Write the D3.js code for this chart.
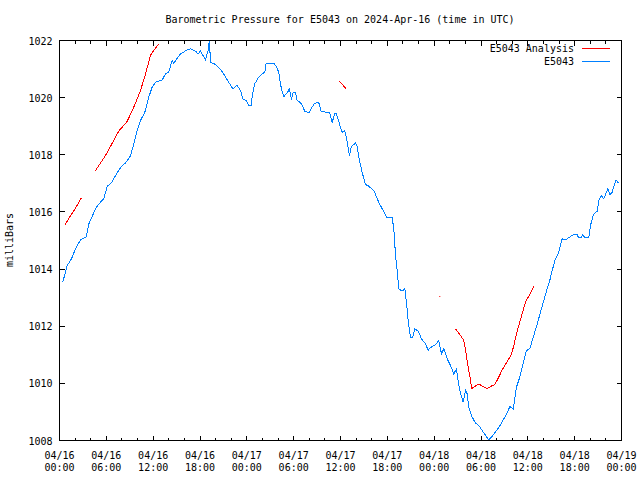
<!DOCTYPE html>
<html>
<head>
<meta charset="utf-8">
<script src="https://cdn.jsdelivr.net/npm/d3@7"></script>
<style>
body { margin:0; background:#fff; }
svg { display:block; }
text { font-family: "DejaVu Sans Mono", monospace; font-size:10px; fill:#000; }
</style>
</head>
<body>
<svg id="chart" width="640" height="480"></svg>
<script>
const startTime = "2024-04-16T00:00:00Z";
const titleText = "Barometric Pressure for E5043 on 2024-Apr-16 (time in UTC)";
const yLabel = "milliBars";
const seriesNames = ["E5043 Analysis", "E5043"];
const yTicks = [1008, 1010, 1012, 1014, 1016, 1018, 1020, 1022];

// Observed series: hours since start, pressure (mb)
const obsHours = [0.42,0.98,1.54,2.05,2.69,3.42,3.76,4.61,5.04,5.68,6.11,6.66,7.17,7.94,8.46,9.10,9.52,9.95,10.38,10.93,11.44,11.87,12.3,13.15,13.58,14.0,14.43,14.64,15.5,16.35,16.78,17.42,17.76,18.06,18.7,19.03,19.2,19.35,19.99,20.6,21.04,21.68,22.2,22.76,23.19,23.48,23.9,24.24,24.55,24.67,25.0,25.53,25.97,26.3,26.48,27.45,27.76,28.1,28.31,28.53,28.74,29.17,29.46,29.72,29.93,30.23,30.44,31.0,31.42,31.94,32.37,32.7,33.22,33.52,34.07,34.59,34.93,35.27,35.49,35.87,36.2,36.55,36.86,37.15,37.4,37.92,38.14,38.34,38.77,39.2,39.63,40.3,40.9,41.34,41.89,42.62,42.83,43.05,43.26,43.47,43.9,44.24,44.45,44.67,44.96,45.26,45.52,45.95,46.38,46.89,47.24,47.44,48.17,48.59,48.94,49.23,49.67,50.09,50.51,50.86,51.03,51.29,51.72,52.02,52.23,52.44,52.87,53.29,53.72,54.15,54.58,55.0,55.43,55.86,56.5,57.27,57.7,58.13,58.55,58.97,59.49,59.83,60.25,60.77,61.2,61.62,62.05,62.48,62.81,63.12,63.54,63.97,64.4,64.82,65.46,65.81,66.32,66.53,66.83,67.04,67.3,67.81,68.03,68.37,68.67,68.88,69.09,69.4,69.73,70.07,70.25,70.51,70.81,71.1,71.32,71.57];
const obsValues = [1013.54,1014.12,1014.36,1014.71,1015.02,1015.12,1015.58,1016.11,1016.28,1016.46,1016.90,1017.02,1017.27,1017.60,1017.71,1017.97,1018.38,1018.85,1019.2,1019.49,1020.02,1020.37,1020.54,1020.62,1020.83,1020.89,1021.30,1021.21,1021.53,1021.67,1021.71,1021.63,1021.53,1021.63,1021.32,1021.65,1022.0,1021.24,1021.16,1021.0,1020.83,1020.54,1020.31,1020.43,1020.25,1019.96,1019.9,1019.73,1019.73,1020.02,1020.48,1020.72,1020.83,1020.89,1021.21,1021.21,1021.09,1020.89,1020.48,1020.19,1020.04,1020.16,1020.31,1019.92,1020.19,1020.19,1019.92,1019.78,1019.53,1019.46,1019.67,1019.81,1019.82,1019.53,1019.49,1019.49,1019.14,1019.43,1019.43,1019.08,1018.79,1018.85,1018.44,1017.97,1018.29,1018.41,1018.29,1017.92,1017.39,1016.96,1016.9,1016.73,1016.34,1016.11,1015.82,1015.79,1015.41,1014.48,1013.95,1013.31,1013.23,1013.31,1012.84,1012.2,1011.62,1011.62,1011.91,1011.83,1011.56,1011.38,1011.15,1011.24,1011.35,1011.5,1011.03,1011.21,1010.86,1010.63,1010.33,1010.51,1010.16,1009.75,1009.34,1009.77,1009.63,1009.17,1008.82,1008.61,1008.53,1008.35,1008.18,1008.02,1008.14,1008.3,1008.55,1008.93,1009.19,1009.11,1009.87,1010.22,1010.8,1011.15,1011.21,1011.68,1012.08,1012.49,1012.9,1013.31,1013.6,1013.95,1014.36,1014.59,1015.06,1015.02,1015.14,1015.2,1015.2,1015.09,1015.09,1015.21,1015.09,1015.09,1015.53,1015.88,1015.99,1016.02,1016.4,1016.58,1016.46,1016.69,1016.81,1016.61,1016.69,1016.98,1017.12,1017.02];

// Analysis series: null marks a gap between segments
const anaHours = [0.68,1.2,1.75,2.3,2.78,null,4.61,5.89,7.6,8.67,9.52,10.38,11.02,11.66,12.08,12.72,null,35.78,36.72,null,48.72,null,50.73,51.37,51.8,52.02,52.36,52.66,52.79,53.08,53.72,54.28,54.79,55.22,55.77,56.28,56.71,57.31,57.82,58.16,58.6,59.02,59.45,59.79,60.3,60.73];
const anaValues = [1015.53,1015.78,1016.0,1016.25,1016.48,null,1017.45,1017.97,1018.83,1019.17,1019.67,1020.25,1020.83,1021.48,1021.65,1021.88,null,1020.6,1020.31,null,1013.04,null,1011.91,1011.68,1011.5,1011.15,1010.57,1010.1,1009.81,1009.87,1009.98,1009.89,1009.81,1009.89,1009.96,1010.22,1010.47,1010.74,1010.97,1011.27,1011.79,1012.2,1012.61,1012.9,1013.13,1013.39];

const colors = { analysis: "#ff0000", obs: "#0080ff" };

const svg = d3.select("#chart");
const m = { left: 59, top: 40, right: 19, bottom: 40 };
const W = 640 - m.left - m.right, H = 480 - m.top - m.bottom;
const t0 = new Date(startTime);
const toDate = h => new Date(t0.getTime() + h * 3600e3);

const x = d3.scaleUtc().domain([t0, toDate(72)]).range([0, W]);
const y = d3.scaleLinear().domain([1008, 1022]).range([H, 0]);

const g = svg.append("g").attr("transform", `translate(${m.left + 0.5},${m.top + 0.5})`);

// Title
svg.append("text").attr("x", 340).attr("y", 23).attr("text-anchor", "middle").text(titleText);
// Y label
svg.append("text").attr("transform", "translate(13,240) rotate(-90)").attr("text-anchor", "middle").text(yLabel);

const majorX = d3.utcHour.every(6).range(t0, toDate(72.01));
const minorX = d3.utcHour.every(2).range(t0, toDate(72.01));
const fmtD = d3.utcFormat("%m/%d"), fmtT = d3.utcFormat("%H:%M");

const ax = g.append("g").attr("shape-rendering", "crispEdges").attr("stroke", "#000");
// x ticks bottom and top
minorX.forEach(d => {
  const isMaj = d.getUTCHours() % 6 === 0;
  const len = isMaj ? 5 : 3;
  const px = Math.round(x(d));
  ax.append("line").attr("x1", px).attr("x2", px).attr("y1", H).attr("y2", H - len);
  ax.append("line").attr("x1", px).attr("x2", px).attr("y1", 0).attr("y2", len);
});
yTicks.forEach(v => {
  const py = Math.round(y(v));
  ax.append("line").attr("x1", 0).attr("x2", 5).attr("y1", py).attr("y2", py);
  ax.append("line").attr("x1", W).attr("x2", W - 5).attr("y1", py).attr("y2", py);
});
// x labels
majorX.forEach(d => {
  const px = x(d);
  g.append("text").attr("x", px).attr("y", H + 18).attr("text-anchor", "middle").text(fmtD(d));
  g.append("text").attr("x", px).attr("y", H + 30).attr("text-anchor", "middle").text(fmtT(d));
});
yTicks.forEach(v => {
  g.append("text").attr("x", -7).attr("y", y(v) + 4).attr("text-anchor", "end").text(d3.format("d")(v));
});

// clip
svg.append("defs").append("clipPath").attr("id", "clip").append("rect").attr("x", 0).attr("y", -1).attr("width", W).attr("height", H + 2);
const plot = g.append("g").attr("clip-path", "url(#clip)");

const line = d3.line().defined(d => d[0] != null && d[1] != null).x(d => x(toDate(d[0]))).y(d => y(d[1]));
const obs = obsHours.map((h, i) => [h, obsValues[i]]);
const ana = anaHours.map((h, i) => [h, anaValues[i]]);

plot.append("path").attr("d", line(ana)).attr("fill", "none").attr("stroke", colors.analysis).attr("stroke-width", 1).attr("shape-rendering", "crispEdges");
// isolated points
ana.forEach((d, i) => {
  if (d[0] == null) return;
  const prev = ana[i - 1], next = ana[i + 1];
  if ((!prev || prev[0] == null) && (!next || next[0] == null)) {
    plot.append("rect").attr("x", x(toDate(d[0])) - 0.5).attr("y", y(d[1]) - 0.5).attr("width", 1).attr("height", 1).attr("fill", colors.analysis);
  }
});
plot.append("path").attr("d", line(obs)).attr("fill", "none").attr("stroke", colors.obs).attr("stroke-width", 1).attr("shape-rendering", "crispEdges");

// border
g.append("rect").attr("width", W).attr("height", H).attr("fill", "none").attr("stroke", "#000").attr("shape-rendering", "crispEdges");

// legend
const leg = [[seriesNames[0], colors.analysis], [seriesNames[1], colors.obs]];
leg.forEach((d, i) => {
  const ly = 48 + i * 13;
  svg.append("text").attr("x", 574).attr("y", ly + 4).attr("text-anchor", "end").text(d[0]);
  svg.append("line").attr("x1", 582).attr("x2", 610).attr("y1", ly + 0.5).attr("y2", ly + 0.5).attr("stroke", d[1]).attr("shape-rendering", "crispEdges");
});
</script>
</body>
</html>
